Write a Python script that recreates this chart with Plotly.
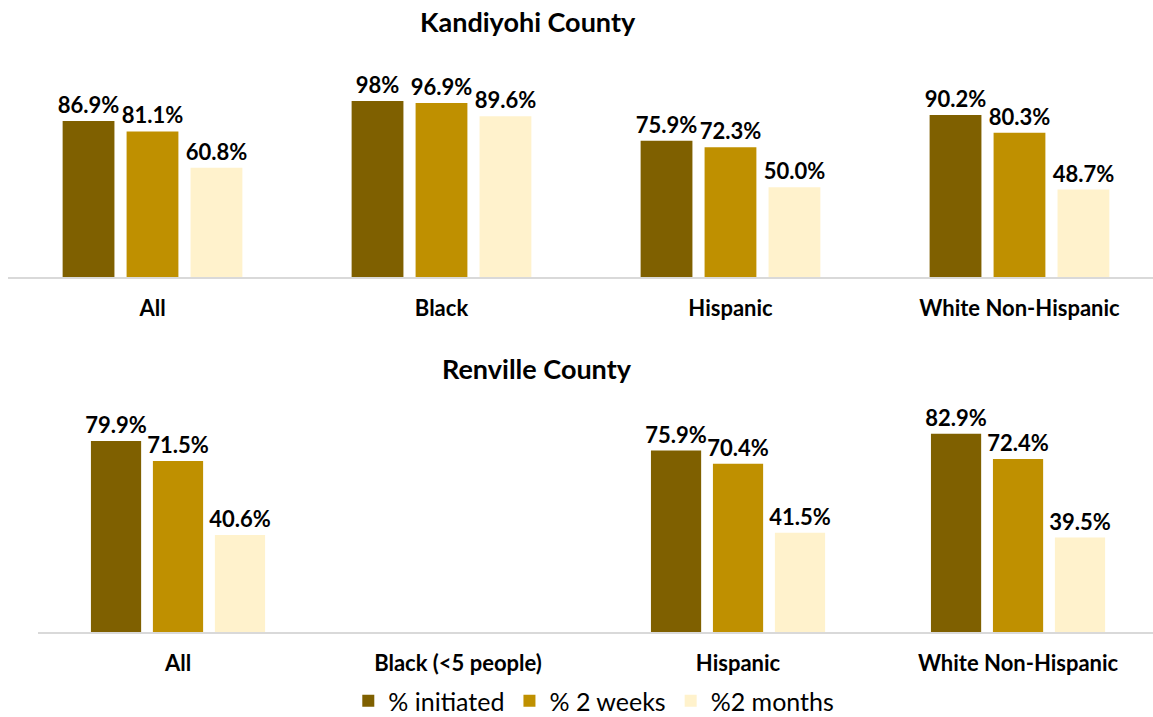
import plotly.graph_objects as go

top_categories = ["All", "Black", "Hispanic", "White Non-Hispanic"]
bottom_categories = ["All", "Black (<5 people)", "Hispanic", "White Non-Hispanic"]
series_names = ["% initiated", "% 2 weeks", "%2 months"]
colors = ["#7f6000", "#bf9000", "#fff2cc"]

kandiyohi_initiated = [86.9, 98.0, 75.9, 90.2]
kandiyohi_2weeks = [81.1, 96.9, 72.3, 80.3]
kandiyohi_2months = [60.8, 89.6, 50.0, 48.7]
kandiyohi_text = [
    ["86.9%", "98%", "75.9%", "90.2%"],
    ["81.1%", "96.9%", "72.3%", "80.3%"],
    ["60.8%", "89.6%", "50.0%", "48.7%"],
]

renville_initiated = [79.9, None, 75.9, 82.9]
renville_2weeks = [71.5, None, 70.4, 72.4]
renville_2months = [40.6, None, 41.5, 39.5]
renville_text = [
    ["79.9%", "", "75.9%", "82.9%"],
    ["71.5%", "", "70.4%", "72.4%"],
    ["40.6%", "", "41.5%", "39.5%"],
]

FONT = "Lato"
W, H = 1153, 717

fig = go.Figure()
top_vals = [kandiyohi_initiated, kandiyohi_2weeks, kandiyohi_2months]
bot_vals = [renville_initiated, renville_2weeks, renville_2months]
for i in range(3):
    fig.add_trace(go.Bar(
        x=top_categories, y=top_vals[i], name=series_names[i],
        marker=dict(color=colors[i], line=dict(width=0)),
        text=kandiyohi_text[i], textposition="outside", cliponaxis=False,
        constraintext="none",
        textfont=dict(family=FONT, size=22, color="black", weight="bold"),
        xaxis="x", yaxis="y", showlegend=False, hoverinfo="skip",
    ))
for i in range(3):
    fig.add_trace(go.Bar(
        x=bottom_categories, y=bot_vals[i], name=series_names[i],
        marker=dict(color=colors[i], line=dict(width=0)),
        text=renville_text[i], textposition="outside", cliponaxis=False,
        constraintext="none",
        textfont=dict(family=FONT, size=22, color="black", weight="bold"),
        xaxis="x2", yaxis="y2", showlegend=False, hoverinfo="skip",
    ))
# legend entries with larger square swatches
for i in range(3):
    fig.add_trace(go.Scatter(
        x=[None], y=[None], mode="markers", name=series_names[i],
        marker=dict(symbol="square", size=19, color=colors[i]),
        xaxis="x", yaxis="y", showlegend=True, hoverinfo="skip",
    ))

def py(pix):
    return (H - pix) / H

axis_common = dict(
    showline=True, linecolor="#d9d9d9", linewidth=2,
    showgrid=False, zeroline=False,
    ticks="outside", ticklen=11, tickcolor="rgba(0,0,0,0)",
    tickfont=dict(family=FONT, size=22, color="black", weight="bold"),
    type="category", fixedrange=True,
)

fig.update_layout(
    width=W, height=H,
    margin=dict(l=0, r=0, t=0, b=0, autoexpand=False),
    paper_bgcolor="white", plot_bgcolor="white",
    barmode="group", bargap=0.336, bargroupgap=0.19,
    font=dict(family=FONT, color="black"),
    xaxis=dict(domain=[8 / W, 1], range=[-0.5, 3.462], anchor="y", **axis_common),
    yaxis=dict(domain=[py(277), py(97.5)], range=[0, 100], visible=False, anchor="x", fixedrange=True),
    xaxis2=dict(domain=[38 / W, 1], range=[-0.5, 3.482], anchor="y2", **axis_common),
    yaxis2=dict(domain=[py(632), py(393)], range=[0, 100], visible=False, anchor="x2", fixedrange=True),
    legend=dict(orientation="h", x=0.515, xanchor="center", y=py(701), yanchor="middle",
                font=dict(family=FONT, size=25, color="black"),
                itemsizing="constant", traceorder="normal", itemwidth=30,
                bgcolor="rgba(0,0,0,0)", tracegroupgap=0),
    showlegend=True,
    annotations=[
        dict(text="<b>Kandiyohi County</b>", x=528 / W, y=py(22), xref="paper", yref="paper",
             showarrow=False, font=dict(family=FONT, size=27, color="black"),
             xanchor="center", yanchor="middle"),
        dict(text="<b>Renville County</b>", x=537 / W, y=py(368), xref="paper", yref="paper",
             showarrow=False, font=dict(family=FONT, size=27, color="black"),
             xanchor="center", yanchor="middle"),
    ],
)

fig.write_html("out.html", config={"displayModeBar": False},
               post_script="document.body.style.margin='0px';document.body.style.padding='0px';")
